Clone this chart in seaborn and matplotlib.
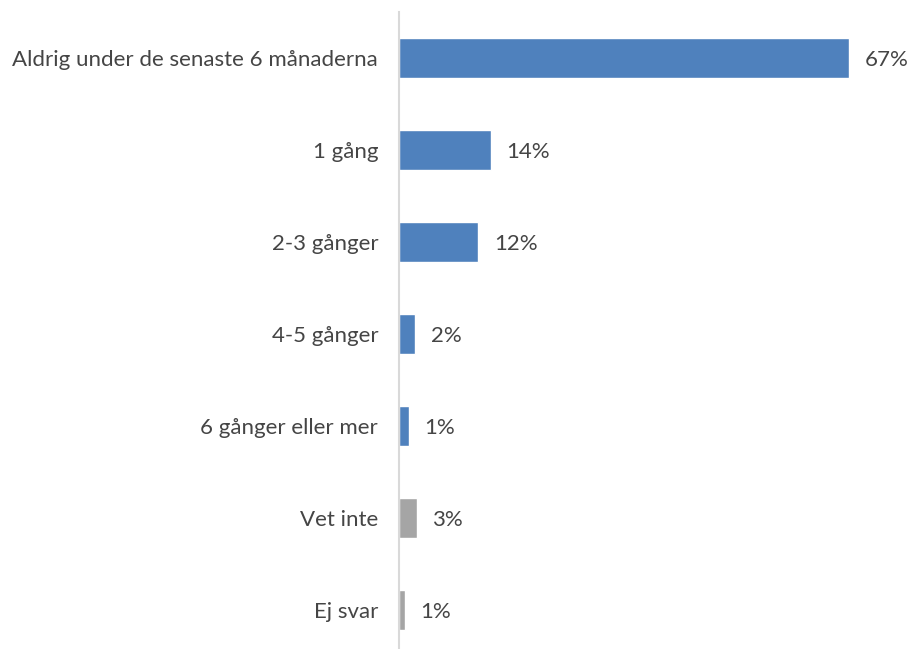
import seaborn as sns
import matplotlib.pyplot as plt
import pandas as pd

categories = [
    "Aldrig under de senaste 6 månaderna",
    "1 gång",
    "2-3 gånger",
    "4-5 gånger",
    "6 gånger eller mer",
    "Vet inte",
    "Ej svar",
]
values = [67.0, 13.65, 11.8, 2.4, 1.45, 2.65, 0.9]
labels = ["67%", "14%", "12%", "2%", "1%", "3%", "1%"]
groups = ["svar", "svar", "svar", "svar", "svar", "ovrigt", "ovrigt"]

df = pd.DataFrame({"kategori": categories, "andel": values, "grupp": groups})

sns.set_style("white")
plt.rcParams["font.family"] = ["Lato", "DejaVu Sans"]

fig = plt.figure(figsize=(9.09, 6.49), dpi=100)
ax = fig.add_axes([0.439, -0.0108, 0.551, 0.9923])

sns.barplot(data=df, x="andel", y="kategori", hue="grupp",
            palette={"svar": "#4F81BD", "ovrigt": "#A5A5A5"},
            dodge=False, width=0.435, saturation=1, legend=False, ax=ax,
            orient="h")

# procentetiketter efter staplarna
for i, (v, lab) in enumerate(zip(values, labels)):
    ax.text(v + 2.3, i, lab, va="center_baseline", ha="left", fontsize=16,
            color="#454545")

ax.set_xlim(0, 74.6)
ax.set_xlabel("")
ax.set_ylabel("")
ax.set_xticks([])
for side in ["top", "right", "bottom"]:
    ax.spines[side].set_visible(False)
ax.spines["left"].set_color("#D9D9D9")
ax.spines["left"].set_linewidth(1.5)
ax.tick_params(axis="y", length=0, pad=15, labelsize=16, labelcolor="#454545")

fig.savefig("out.png", dpi=100)
